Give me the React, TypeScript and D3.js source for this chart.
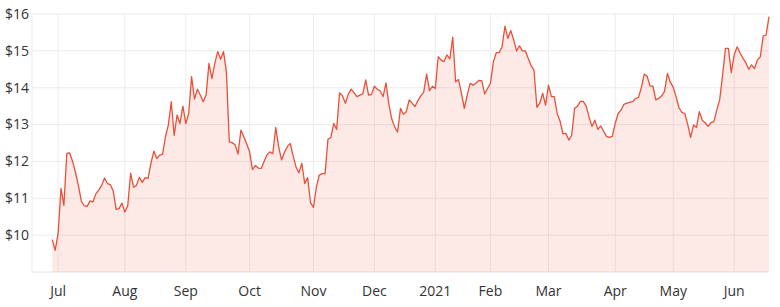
import React from "react";
import * as d3 from "d3";

// Daily closing prices (AUD), trading days from 29 Jun 2020 to 18 Jun 2021
const prices: number[] = [
  9.88, 9.59, 10.05, 11.27, 10.81, 12.22, 12.23, 12.0, 11.7, 11.35,
  10.92, 10.8, 10.78, 10.93, 10.9, 11.12, 11.22, 11.35, 11.55, 11.4,
  11.37, 11.2, 10.7, 10.72, 10.87, 10.63, 10.8, 11.68, 11.3, 11.35,
  11.57, 11.43, 11.56, 11.54, 11.95, 12.28, 12.08, 12.17, 12.19, 12.67,
  12.99, 13.62, 12.71, 13.26, 13.03, 13.5, 13.03, 13.3, 14.3, 13.69,
  13.96, 13.8, 13.62, 13.8, 14.66, 14.25, 14.66, 14.98, 14.77, 14.98,
  14.43, 12.53, 12.51, 12.45, 12.2, 12.85, 12.67, 12.47, 12.26, 11.78,
  11.89, 11.82, 11.81, 12.0, 12.18, 12.26, 12.21, 12.92, 12.4, 12.04,
  12.25, 12.4, 12.49, 12.15, 11.85, 11.69, 11.95, 11.4, 11.56, 10.88,
  10.75, 11.3, 11.63, 11.67, 11.67, 12.6, 12.65, 13.03, 12.87, 13.86,
  13.78, 13.58, 13.82, 13.96, 13.86, 13.76, 13.8, 13.83, 14.21, 13.8,
  13.82, 14.04, 13.96, 13.91, 13.76, 14.13, 13.55, 13.15, 12.93, 12.8,
  13.44, 13.28, 13.35, 13.67, 13.58, 13.49, 13.65, 13.78, 13.88, 14.37,
  13.92, 14.04, 13.98, 14.84, 14.75, 14.71, 14.89, 14.78, 15.37, 14.16,
  14.22, 13.85, 13.44, 13.8, 14.12, 14.07, 14.12, 14.2, 14.19, 13.83,
  13.98, 14.12, 14.7, 14.95, 14.95, 15.11, 15.67, 15.34, 15.55, 15.3,
  15.0, 15.14, 15.0, 15.0, 14.8, 14.6, 14.48, 13.47, 13.58, 13.85,
  13.53, 14.07, 13.76, 13.76, 13.3, 13.09, 12.75, 12.76, 12.58, 12.71,
  13.44, 13.5, 13.63, 13.63, 13.5, 13.2, 12.95, 13.12, 12.87, 12.96,
  12.82, 12.68, 12.65, 12.68, 13.03, 13.3, 13.39, 13.55, 13.58, 13.6,
  13.62, 13.71, 13.73, 14.0, 14.37, 14.31, 14.05, 14.04, 13.67, 13.71,
  13.78, 13.9, 14.39, 14.15, 14.01, 13.75, 13.45, 13.33, 13.3, 13.0,
  12.65, 12.99, 12.92, 13.35, 13.12, 13.05, 12.95, 13.05, 13.08, 13.39,
  13.67, 14.34, 15.07, 15.07, 14.41, 14.89, 15.11, 14.95, 14.8, 14.68,
  14.5, 14.62, 14.52, 14.75, 14.84, 15.4, 15.43, 15.93,
];

const startDate = "2020-06-29";
const exchangeHolidays: string[] = [
  "2020-12-25", "2020-12-28", "2021-01-01", "2021-01-26",
  "2021-04-02", "2021-04-05", "2021-06-14",
];
const yTicks: number[] = [10, 11, 12, 13, 14, 15, 16];
const yDomain: [number, number] = [9, 16];

function tradingDates(start: string, count: number): Date[] {
  const out: Date[] = [];
  const hol = new Set(exchangeHolidays);
  const d = new Date(start + "T00:00:00");
  while (out.length < count) {
    const dow = d.getDay();
    const key = d3.timeFormat("%Y-%m-%d")(d);
    if (dow !== 0 && dow !== 6 && !hol.has(key)) out.push(new Date(d));
    d.setDate(d.getDate() + 1);
  }
  return out;
}

const W = 780;
const H = 307;
const M = { left: 32, right: 11, top: 14, bottom: 35 };
const FONT = "'Open Sans', 'Noto Sans', sans-serif";

export default function App() {
  const dates = tradingDates(startDate, prices.length);
  const plotL = M.left;
  const plotR = W - M.right;
  const plotT = M.top;
  const plotB = H - M.bottom;

  const x = d3.scaleLinear().domain([0, prices.length - 1]).range([52.3, 769]);
  const y = d3.scaleLinear().domain(yDomain).range([plotB, plotT]);

  // month ticks: first trading day of each month (skip the partial June 2020)
  const monthTicks: { i: number; label: string }[] = [];
  dates.forEach((d, i) => {
    if (i > 0 && d.getMonth() !== dates[i - 1].getMonth()) {
      const label = d.getMonth() === 0 ? d3.timeFormat("%Y")(d) : d3.timeFormat("%b")(d);
      monthTicks.push({ i, label });
    }
  });

  const line = d3
    .line<number>()
    .x((_, i) => x(i))
    .y((v) => y(v));
  const area = d3
    .area<number>()
    .x((_, i) => x(i))
    .y0(plotB)
    .y1((v) => y(v));

  return (
    <svg
      width={W}
      height={H}
      style={{ position: "absolute", left: 0, top: 0, background: "#fff" }}
      fontFamily={FONT}
    >
      {yTicks.map((t) => (
        <line key={"gy" + t} x1={plotL} x2={plotR} y1={y(t)} y2={y(t)} stroke="#ececec" strokeWidth={1} />
      ))}
      {monthTicks.map((m) => (
        <line key={"gx" + m.i} x1={x(m.i)} x2={x(m.i)} y1={plotT} y2={plotB} stroke="#ececec" strokeWidth={1} />
      ))}
      <line x1={plotL} x2={plotL} y1={plotT} y2={plotB} stroke="#ececec" />
      <line x1={plotL} x2={plotR} y1={plotB} y2={plotB} stroke="#e6e6e6" />
      <path d={area(prices) || ""} fill="#f0583c" fillOpacity={0.13} />
      <path d={line(prices) || ""} fill="none" stroke="#e9503a" strokeWidth={1.3} strokeLinejoin="round" />
      {yTicks.map((t) => (
        <text key={"ty" + t} x={29} y={y(t)} dy="0.35em" textAnchor="end" fontSize={14} fill="#333">
          {"$" + t}
        </text>
      ))}
      {monthTicks.map((m) => (
        <text key={"tx" + m.i} x={x(m.i)} y={291} dy="0.35em" textAnchor="middle" fontSize={14} fill="#333">
          {m.label}
        </text>
      ))}
    </svg>
  );
}
